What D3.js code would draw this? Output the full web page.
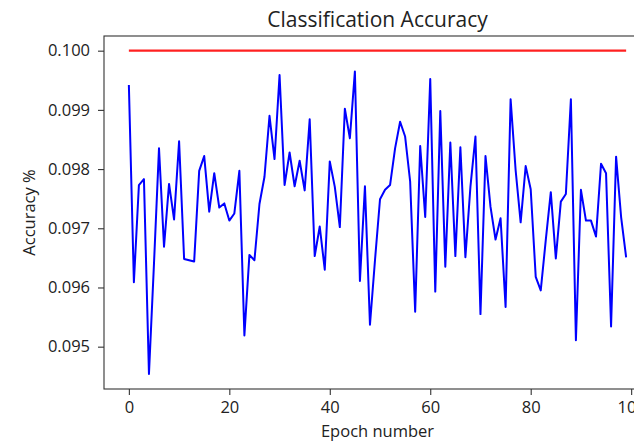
<!DOCTYPE html>
<html>
<head>
<meta charset="utf-8">
<script src="https://cdn.jsdelivr.net/npm/d3@7"></script>
<style>
  body { margin: 0; background: #fff; }
  text { font-family: "Open Sans", "Noto Sans", sans-serif; fill: #222; }
</style>
</head>
<body>
<svg id="chart"></svg>
<script>
// accuracy per epoch
var accuracy = [
  0.09942, 0.09609, 0.09773, 0.09783, 0.09454, 0.09640, 0.09835, 0.09669, 0.09775, 0.09715,
  0.09847, 0.09648, 0.09646, 0.09644, 0.09797, 0.09822, 0.09728, 0.09793, 0.09735, 0.09742,
  0.09713, 0.09725, 0.09797, 0.09519, 0.09655, 0.09646, 0.09741, 0.09787, 0.09890, 0.09817,
  0.09959, 0.09773, 0.09828, 0.09771, 0.09814, 0.09764, 0.09884, 0.09653, 0.09703, 0.09630,
  0.09813, 0.09770, 0.09702, 0.09902, 0.09852, 0.09965, 0.09611, 0.09771, 0.09537, 0.09646,
  0.09749, 0.09765, 0.09773, 0.09835, 0.09880, 0.09855, 0.09779, 0.09559, 0.09839, 0.09719,
  0.09952, 0.09593, 0.09898, 0.09635, 0.09845, 0.09653, 0.09837, 0.09651, 0.09770, 0.09855,
  0.09555, 0.09822, 0.09736, 0.09681, 0.09717, 0.09567, 0.09918, 0.09798, 0.09710, 0.09805,
  0.09766, 0.09618, 0.09595, 0.09680, 0.09761, 0.09649, 0.09745, 0.09758, 0.09918, 0.09511,
  0.09765, 0.09713, 0.09713, 0.09686, 0.09809, 0.09793, 0.09534, 0.09821, 0.09719, 0.09651
]
var target = 0.1
var xTicks = [0, 20, 40, 60, 80, 100]
var yTicks = [0.095, 0.096, 0.097, 0.098, 0.099, 0.100]

var epochs = accuracy.map((d, i) => i)

var dimensions = {
    width: 634,
    height: 441,
    plot: { left: 104, right: 651, top: 36, bottom: 389 }
}
var tickFont = 16.5
var titleFont = 21

var svg = d3.select("#chart")
            .attr("width", dimensions.width)
            .attr("height", dimensions.height)

//scales with matplotlib style 5% margins
var xMax = d3.max(epochs)
var xScale = d3.scaleLinear()
               .domain([-0.05 * xMax, xMax * 1.05])
               .range([dimensions.plot.left, dimensions.plot.right])
var yScale = d3.scaleLinear()
               .domain([0.094285, 0.100248])
               .range([dimensions.plot.bottom, dimensions.plot.top])

//axes
var xAxis = d3.axisBottom(xScale).tickValues(xTicks).tickSize(6).tickPadding(6).tickFormat(d3.format("d"))
var yAxis = d3.axisLeft(yScale).tickValues(yTicks).tickSize(6).tickPadding(8).tickFormat(d3.format(".3f"))

var gx = svg.append("g")
            .attr("transform", `translate(0,${dimensions.plot.bottom})`)
            .call(xAxis)
var gy = svg.append("g")
            .attr("transform", `translate(${dimensions.plot.left},0)`)
            .call(yAxis)

;[gx, gy].forEach(g => {
    g.select(".domain").remove()
    g.selectAll(".tick line").attr("stroke", "#333").attr("stroke-width", 1.1)
    g.selectAll(".tick text").attr("font-size", tickFont).attr("fill", "#222")
       .style("font-family", "Open Sans, Noto Sans, sans-serif")
})

//lines
var line = d3.line()
             .x((d, i) => xScale(epochs[i]))
             .y(d => yScale(d))

svg.append("path")
   .datum(epochs.map(() => target))
   .attr("d", line)
   .attr("fill", "none")
   .attr("stroke", "#ff2020")
   .attr("stroke-width", 2.2)

svg.append("path")
   .datum(accuracy)
   .attr("d", line)
   .attr("fill", "none")
   .attr("stroke", "#0000ff")
   .attr("stroke-width", 2)
   .attr("stroke-linejoin", "round")

//frame
svg.append("rect")
   .attr("x", dimensions.plot.left)
   .attr("y", dimensions.plot.top)
   .attr("width", dimensions.plot.right - dimensions.plot.left)
   .attr("height", dimensions.plot.bottom - dimensions.plot.top)
   .attr("fill", "none")
   .attr("stroke", "#333")
   .attr("stroke-width", 1.1)

//title and labels
var midX = (dimensions.plot.left + dimensions.plot.right) / 2
svg.append("text")
   .attr("x", midX)
   .attr("y", 27)
   .attr("text-anchor", "middle")
   .attr("font-size", titleFont)
   .text("Classification Accuracy")

svg.append("text")
   .attr("x", midX)
   .attr("y", 437)
   .attr("text-anchor", "middle")
   .attr("font-size", tickFont)
   .text("Epoch number")

svg.append("text")
   .attr("transform", `translate(35,${(dimensions.plot.top + dimensions.plot.bottom) / 2}) rotate(-90)`)
   .attr("text-anchor", "middle")
   .attr("font-size", tickFont)
   .text("Accuracy %")
</script>
</body>
</html>
